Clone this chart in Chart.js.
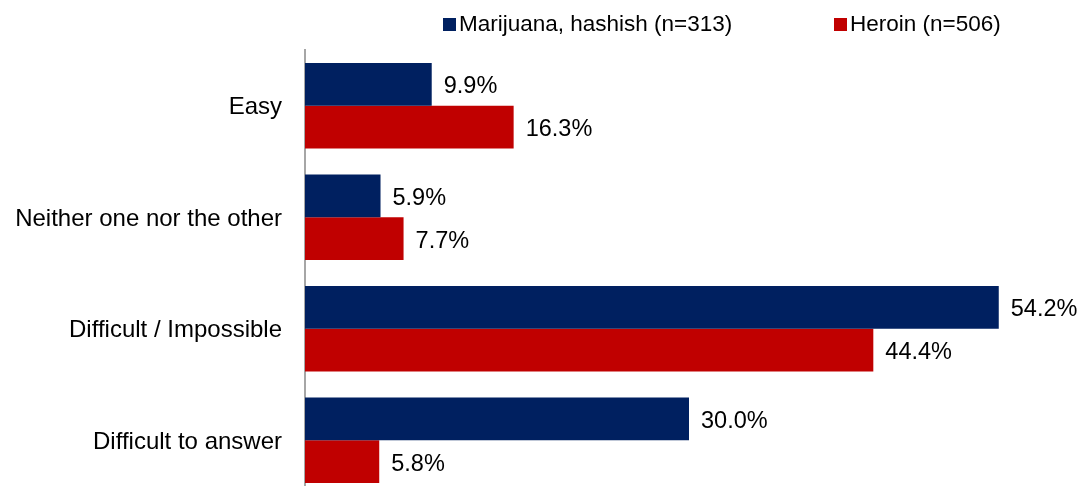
<!DOCTYPE html>
<html>
<head>
<meta charset="utf-8">
<script src="https://cdn.jsdelivr.net/npm/chart.js@4/dist/chart.umd.min.js"></script>
<style>
  html, body { margin: 0; padding: 0; background: #fff; overflow: hidden; }
  canvas { display: block; }
</style>
</head>
<body>
<canvas id="c" width="1083" height="500" style="width:1083px;height:500px"></canvas>
<script>
// Perceived ease of obtaining the drug, by respondent group (%)
const categories = ['Easy', 'Neither one nor the other', 'Difficult / Impossible', 'Difficult to answer'];
const seriesNames = ['Marijuana, hashish (n=313)', 'Heroin (n=506)'];
const marijuana = [9.9, 5.9, 54.2, 30.0];
const heroin = [16.3, 7.7, 44.4, 5.8];
const seriesColors = ['#002060', '#C00000'];

const FONT = '"Liberation Sans", Arial, sans-serif';

// Legend drawn along the top: square swatch sitting on the text baseline
const topLegend = {
  id: 'topLegend',
  afterDraw(chart) {
    const ctx = chart.ctx;
    const starts = [443, 834];
    ctx.save();
    ctx.font = '22.5px ' + FONT;
    ctx.textBaseline = 'alphabetic';
    ctx.textAlign = 'left';
    chart.data.datasets.forEach((ds, i) => {
      const x = starts[i];
      ctx.fillStyle = ds.backgroundColor;
      ctx.fillRect(x, 18, 13, 13);
      ctx.fillStyle = '#000';
      ctx.fillText(ds.label, x + 16, 31);
    });
    ctx.restore();
  }
};

// Percentage printed just past the end of each bar
const valueLabels = {
  id: 'valueLabels',
  afterDatasetsDraw(chart) {
    const ctx = chart.ctx;
    ctx.save();
    ctx.font = '23.5px ' + FONT;
    ctx.fillStyle = '#000';
    ctx.textAlign = 'left';
    ctx.textBaseline = 'middle';
    chart.data.datasets.forEach((ds, di) => {
      chart.getDatasetMeta(di).data.forEach((bar, i) => {
        ctx.fillText(ds.data[i].toFixed(1) + '%', bar.x + 12, bar.y + 2.5);
      });
    });
    ctx.restore();
  }
};

new Chart(document.getElementById('c'), {
  type: 'bar',
  data: {
    labels: categories,
    datasets: [
      { label: seriesNames[0], data: marijuana, backgroundColor: seriesColors[0] },
      { label: seriesNames[1], data: heroin, backgroundColor: seriesColors[1] }
    ]
  },
  options: {
    indexAxis: 'y',
    responsive: false,
    devicePixelRatio: 1,
    animation: false,
    layout: { padding: { top: 50, right: 10, bottom: 4, left: 0 } },
    datasets: { bar: { categoryPercentage: 0.768, barPercentage: 1.0 } },
    plugins: { legend: { display: false }, tooltip: { enabled: false } },
    scales: {
      x: { display: false, min: 0, max: 60 },
      y: {
        afterFit(scale) {
          scale.width = 305;
          // labels sit well inside the plot band, so no extra room above/below
          scale.paddingTop = 0;
          scale.paddingBottom = 0;
        },
        grid: { display: false, drawTicks: false },
        border: { display: true, color: '#A6A6A6', width: 2 },
        ticks: { color: '#000', padding: 23, labelOffset: 2, font: { family: FONT, size: 24 } }
      }
    }
  },
  plugins: [topLegend, valueLabels]
});
</script>
</body>
</html>
